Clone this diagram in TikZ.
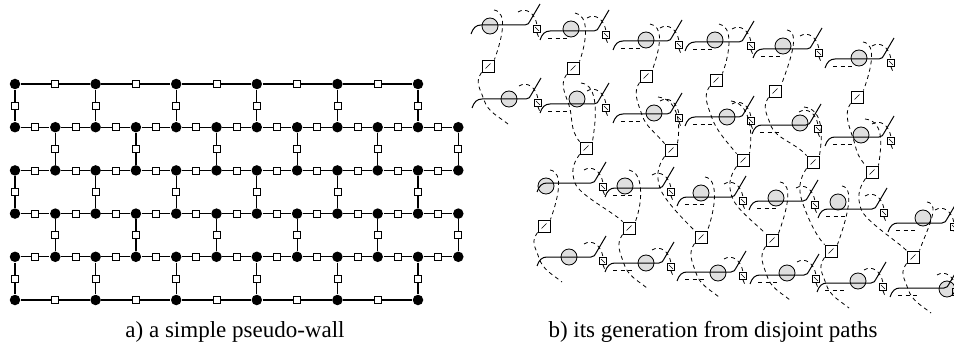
\documentclass[tikz,border=0pt]{standalone}
\usepackage{fontspec}
\setmainfont{Liberation Serif}
\usetikzlibrary{calc}
\tikzset{
  dot/.style={circle,fill=black,inner sep=0pt,minimum size=10.5pt},
  wsq/.style={rectangle,draw,fill=white,inner sep=0pt,minimum size=7pt,line width=0.8pt},
  bigsq/.style={rectangle,draw,inner sep=0pt,minimum size=12pt,line width=0.9pt},
  smallsq/.style={rectangle,draw,inner sep=0pt,minimum size=7pt,line width=0.8pt},
  dpath/.style={dash pattern=on 4pt off 3.5pt,line width=0.8pt},
  mline/.style={line width=1pt},
  motif/.pic={
    \draw[mline] (0,0) .. controls (2,-6) and (5,-9) .. (10,-9) -- (54,-9) .. controls (57,-9) and (58,-11) .. (59,-13) -- (69,-30);
    \node[smallsq] (-q) at (66,-5) {};
    \draw[line width=0.6pt] (-q.center) +(-2,-2) -- +(2,2);
    \draw[dpath] (47,-22) .. controls (55,-27) and (64,-21) .. (-q.north);
    \draw[dpath] (-q.south) -- +(2,5);
  }
}
\begin{document}
\begin{tikzpicture}[x=1pt,y=-1pt,line width=1.2pt]
\useasboundingbox (0,0) rectangle (954,345);

% a) the pseudo-wall
\foreach \j in {0,5}
  \foreach \i in {0,2,...,10}
    \node[dot] (w-\j-\i) at ({15+40.3*\i},{84+43.2*\j}) {};
\foreach \j in {1,...,4}
  \foreach \i in {0,...,11}
    \node[dot] (w-\j-\i) at ({15+40.3*\i},{84+43.2*\j}) {};

\foreach \j in {0,5}
  \foreach \i in {0,2,...,8} {
    \pgfmathtruncatemacro\nxt{\i+2}
    \draw (w-\j-\i) -- node[wsq] {} (w-\j-\nxt);
  }
\foreach \j in {1,...,4}
  \foreach \i in {0,...,10} {
    \pgfmathtruncatemacro\nxt{\i+1}
    \draw (w-\j-\i) -- node[wsq] {} (w-\j-\nxt);
  }
\foreach \j/\low in {0/1,2/3,4/5}
  \foreach \i in {0,2,...,10}
    \draw (w-\j-\i) -- node[wsq] {} (w-\low-\i);
\foreach \j/\low in {1/2,3/4}
  \foreach \i in {1,3,...,11}
    \draw (w-\j-\i) -- node[wsq] {} (w-\low-\i);

\node[anchor=base,font=\fontsize{23}{26}\selectfont] (capa) at (235,337) {a) a simple pseudo-wall};

% b) the disjoint paths
\foreach \n/\sx/\sy/\cx/\cy in {a1/471/34/490/26,a2/540/40/571/29,a3/613/50/646/40,a4/685/51/715/40,a5/753/58/783/46,a6/825/68/859/58,
    b1/472/108/509/99,b2/540/113/577/99,b3/613/123/654/113,b4/685/126/727/117,b5/752/134/800/123,b6/825/146/861/135,
    c1/537/192/546/186,c2/605/197/625/186,c3/677/206/701/193,c4/749/210/776/198,c5/818/218/838/202,c6/888/232/923/218,
    d1/537/266/569/257,d2/605/272/646/263,d3/677/281/718/273,d4/750/284/787/273,d5/817/292/858/281,d6/890/297/947/289} {
  \coordinate (s\n) at (\sx,\sy);
  \coordinate (\n) at (\cx,\cy);
  \filldraw[fill=gray!25,line width=0.8pt] (\n) circle (8);
  \pic (\n) at (s\n) {motif};
}

\foreach \n/\x/\y in {ab1/488/66,ab2/573/68,ab3/646/76,ab4/716/80,ab5/775/91,ab6/857/97,
    bc2/586/148,bc3/671/150,bc4/743/160,bc5/813/162,bc6/872/172,
    cd1/544/226,cd2/629/228,cd3/701/237,cd4/772/240,cd5/831/251,cd6/913/257} {
  \node[bigsq] (\n) at (\x,\y) {};
  \draw[line width=0.6pt] (\n.center) +(-2.5,2.5) -- +(2.5,-2.5);
}

% paths down through the big squares
\foreach \k in {1,...,6} {
  \draw[dpath] ($(a\k)+(4,-16)$) .. controls +(14,2) and +(8,-22) .. (ab\k.north east);
  \draw[dpath] ($(c\k)+(4,-16)$) .. controls +(14,2) and +(8,-22) .. (cd\k.north east);
  \draw[dpath] (cd\k.south west) .. controls +(-7,10) and +(-4,-12) .. ($(cd\k |- sd\k)+(-5,-8)$) .. controls +(4,12) and +(-10,-8) .. ($(cd\k |- sd\k)+(18,16)$);
}
\draw[dpath] (ab1.south west) .. controls +(-7,10) and +(-4,-12) .. ($(ab1 |- sb1)+(-4,-8)$) .. controls +(4,12) and +(-10,-8) .. ($(ab1 |- sb1)+(20,16)$);
\foreach \k [evaluate=\k as \m using int(\k-1)] in {2,...,6} {
  \draw[dpath] (ab\k.south west) .. controls +(-7,10) and +(-4,-12) .. ($(ab\k |- sb\k)+(-4,-8)$) .. controls +(4,12) and +(-10,-12) .. (bc\k.north west);
  \draw[dpath] ($(b\k)+(4,-16)$) .. controls +(18,2) and +(4,-24) .. (bc\k.north east);
  \draw[dpath] (bc\k.south west) .. controls +(-7,10) and +(-4,-12) .. ($(bc\k |- sc\m)+(-11,-9)$) .. controls +(4,12) and +(-10,-10) .. (cd\k.north west);
}
\foreach \n in {a2,a3,a4,a5,a6,b2,b3,b4,b5,b6,c2,c3,c4,c5,c6,d2,d3,d4,d5,d6}
  \draw[dpath] ($(s\n)+(8,-2)$) -- ($(s\n)+(27,-2)$);

\node[anchor=base,font=\fontsize{23}{26}\selectfont] (capb) at (713,337) {b) its generation from disjoint paths};
\end{tikzpicture}
\end{document}
